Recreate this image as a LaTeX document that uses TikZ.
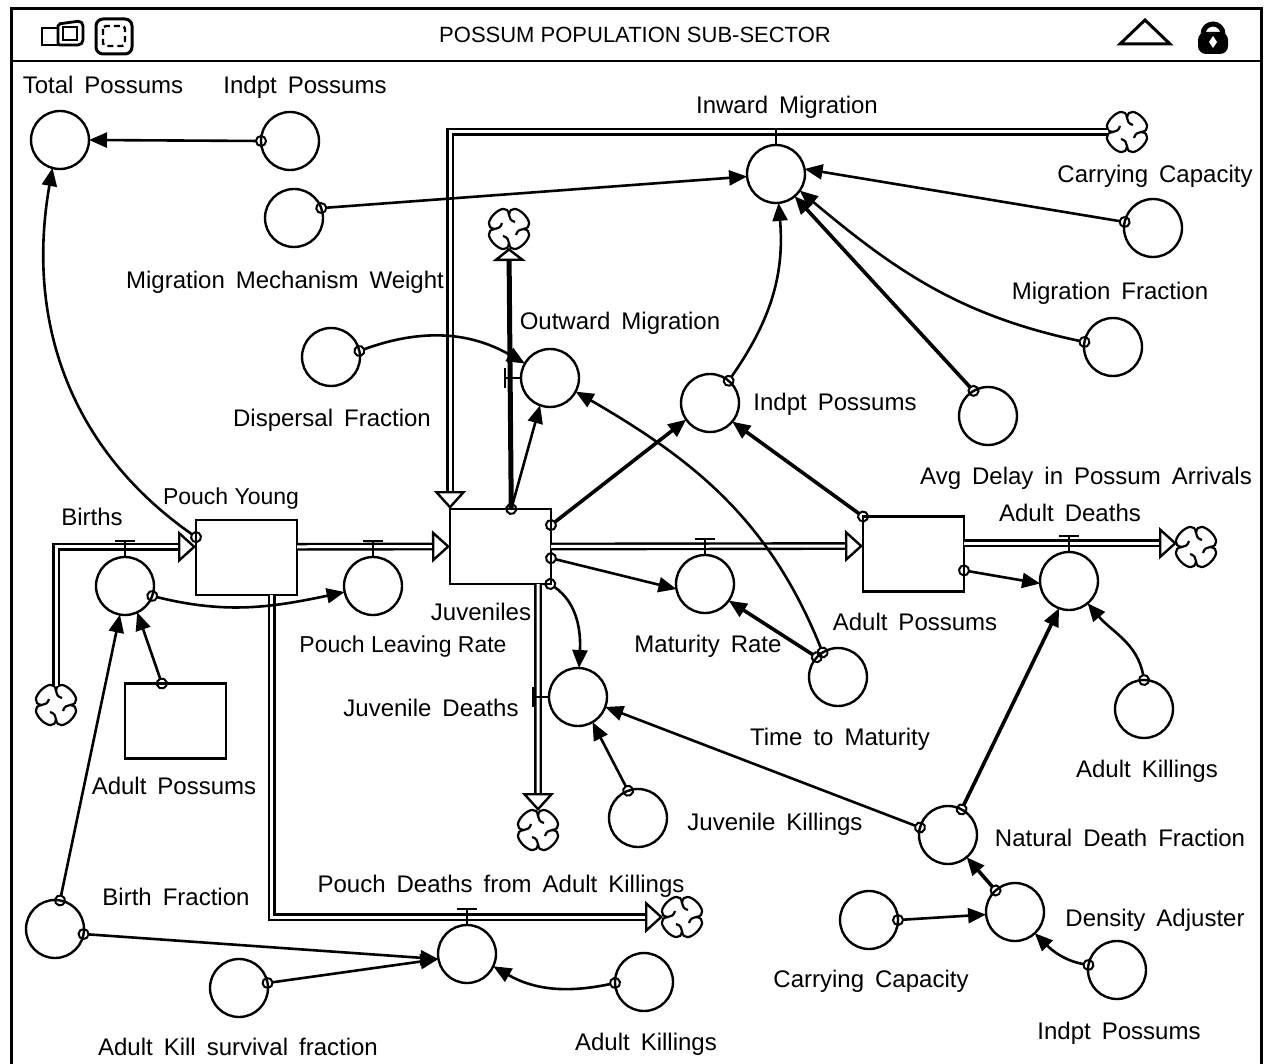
\documentclass[tikz,border=0pt]{standalone}
\usepackage{fontspec}
\setmainfont{Liberation Sans}
\usetikzlibrary{arrows.meta}
\newcommand{\lblfont}{\fontsize{24}{26}\selectfont\spaceskip=11pt\relax}
\tikzset{
  conv/.style = {draw, circle, minimum size = 58pt, inner sep = 0pt, outer sep = 0pt, line width = 2.4pt},
  stock/.style = {draw, rectangle, minimum width = 101pt, minimum height = 75pt, inner sep = 0pt, outer sep = 0pt, line width = 2.6pt},
  swirl/.style = {circle, minimum size = 38pt, inner sep = 0pt, outer sep = 0pt},
  lbl/.style = {inner sep = 0pt, text height = 17pt, text depth = 0pt, font = \lblfont},
  tightlbl/.style = {lbl, font = \fontsize{23}{26}\selectfont},
  tap/.style = {line width = 2.6pt, shorten <= -6pt,
    {Circle[open, length = 12pt, width = 12pt, line width = 2pt]}-{Triangle[length = 18pt, width = 15pt]}},
  heavytap/.style = {tap, line width = 3.6pt},
  flow/.style = {double, double distance = 3pt, line width = 2.4pt,
    -{Triangle[open, fill = white, length = 18pt, width = 32pt, line width = 2.4pt]}},
  valve/.style = {line width = 1.8pt, -{Bar[width = 20pt, line width = 2.4pt]}},
}
\begin{document}
\begin{tikzpicture}[x = 1pt, y = -1pt]
    \useasboundingbox (0,0) rectangle (1266,1064);
    % window frame and title bar
    \draw [line width = 3pt] (11,1064) |- (1261,9) -- (1261,1064);
    \draw [line width = 2.4pt] (11,61) -- (1261,61);
    \draw [line width = 2.8pt] (42,28) rectangle (58,45);
    \draw [line width = 2.8pt, rounded corners = 2pt] (58,45) -- (58,24) -- (80,21) -- (83,24) -- (83,42) -- (80,45) -- cycle;
    \draw [line width = 2.4pt] (63,27) rectangle (77,40);
    \draw [line width = 3pt, rounded corners = 7pt] (96,19) rectangle (132,54);
    \draw [line width = 2.4pt, dash pattern = on 6pt off 4pt, rounded corners = 3pt] (103,26) rectangle (125,46);
    \draw [line width = 3pt] (1145,20) -- (1170,44) -- (1120,44) -- cycle;
    \draw [line width = 5pt] (1203,34) arc [start angle = 180, end angle = 0, radius = 10pt];
    \fill [rounded corners = 8pt] (1198,32) rectangle (1228,54);
    \fill [white] (1213,36) -- (1217,42) -- (1213,48) -- (1209,42) -- cycle;
    \node (title) at (635,35) [inner sep = 0pt, font = \fontsize{22}{26}\selectfont] {POSSUM POPULATION SUB-SECTOR};

    % stocks
    \node (pouch) at (246.5,557.5) [stock] {};
    \node (juv) at (500.5,546.5) [stock] {};
    \node (adult) at (913.5,554) [stock] {};
    \node (ghostA) at (175.5,721) [stock] {};

    % converters
    \node (totalA) at (60,140) [conv] {};
    \node (indptA) at (290,141) [conv] {};
    \node (inward) at (776,174) [conv] {};
    \node (mechW) at (294,218) [conv] {};
    \node (capA) at (1153,228) [conv] {};
    \node (migF) at (1113,347) [conv] {};
    \node (avgD) at (988,416) [conv] {};
    \node (indptM) at (710,403) [conv] {};
    \node (outw) at (550,378) [conv] {};
    \node (dispF) at (331,357) [conv] {};
    \node (births) at (125,586) [conv] {};
    \node (leave) at (373,586) [conv] {};
    \node (matR) at (705,584) [conv] {};
    \node (deaths) at (1069,581) [conv] {};
    \node (juvD) at (578,697) [conv] {};
    \node (timeM) at (838,677) [conv] {};
    \node (juvK) at (638,818) [conv] {};
    \node (killR) at (1144,709) [conv] {};
    \node (natD) at (948,835) [conv] {};
    \node (densA) at (1015,912) [conv] {};
    \node (capB) at (869,920) [conv] {};
    \node (indptB) at (1117,970) [conv] {};
    \node (birthF) at (55,929) [conv] {};
    \node (killS) at (239,988) [conv] {};
    \node (pouchD) at (467,954) [conv] {};
    \node (killL) at (644,982) [conv] {};

    % clouds
    \node (cloudI) at (1127,132) [swirl] {};
    \node (cloudO) at (509,229) [swirl] {};
    \node (cloudB) at (56,705) [swirl] {};
    \node (cloudD) at (1196,547) [swirl] {};
    \node (cloudJ) at (538,830) [swirl] {};
    \node (cloudP) at (682,917) [swirl] {};
    \foreach \c in {cloudI,cloudO,cloudB,cloudD,cloudJ,cloudP}
      \foreach \r in {0,90,180,270}
        \draw [line width = 2.2pt, shift = {(\c.center)}, rotate = \r]
          (0,-14) .. controls (2,-33) and (33,-2) .. (14,0)
          (0,-14) .. controls (0,-11) and (2,-8) .. (6,-7);

    % flows
    \draw [flow] (cloudB.north) |- (pouch.168);
    \draw [flow] (pouch.12) -- (juv.west);
    \draw [flow] (juv.east) -- (adult.171);
    \draw [flow] (adult.12) -- (adult.12 -| cloudD.west);
    \draw [flow] (juv.-45) -- (cloudJ.north);
    \draw [flow] (pouch.-56) |- (cloudP.west);
    \draw [flow] (cloudI.west) -| (juv.north west);
    \draw [line width = 5pt, -{Triangle[open, fill = white, length = 13pt, width = 33pt, line width = 2.4pt]}] (juv.74) -- (cloudO.south);

    % valves
    \foreach \c in {inward,births,leave,matR,deaths,pouchD}
      \draw [valve] (\c.north) -- +(0,-17);
    \foreach \c in {outw,juvD}
      \draw [valve] (\c.west) -- +(-17,0);

    % connectors
    \draw [tap] (indptA.west) -- (totalA.east);
    \draw [tap] (pouch.158) to [out = 145, in = -100] (totalA.-105);
    \draw [tap] (mechW.20) -- (inward.185);
    \draw [tap] (capA.168) -- (inward.10);
    \draw [tap] (migF.170) to [out = 168, in = -40] (inward.-35);
    \draw [heavytap] (avgD.120) -- (inward.-50);
    \draw [tap] (indptM.50) to [out = 55, in = -85] (inward.-85);
    \draw [tap] (dispF.12) to [out = 20, in = 150] (outw.150);
    \draw [tap] (juv.74) -- (outw.-110);
    \draw [heavytap] (juv.23) -- (indptM.-145);
    \draw [heavytap] (adult.north west) -- (indptM.-40);
    \draw [tap] (juv.-13) -- (matR.190);
    \draw [tap] (juv.-37) to [out = -35, in = 87] (juvD.88);
    \draw [heavytap] (timeM.137) -- (matR.-35);
    \draw [tap] (timeM.122) to [out = 112, in = -30] (outw.-28);
    \draw [tap] (adult.-18) -- (deaths.185);
    \draw [tap] (killR.90) to [out = 100, in = -50] (deaths.-50);
    \draw [heavytap] (natD.62) -- (deaths.-110);
    \draw [tap] (natD.165) -- (juvD.-20);
    \draw [heavytap] (densA.132) -- (natD.-50);
    \draw [tap] (capB.east) -- (densA.185);
    \draw [tap] (indptB.170) to [out = 170, in = -45] (densA.-47);
    \draw [tap] (juvK.110) -- (juvD.-60);
    \draw [tap] (births.-20) to [out = -14, in = 192] (leave.192);
    \draw [tap] (ghostA.110) -- (births.-65);
    \draw [tap] (birthF.80) -- (births.-100);
    \draw [tap] (birthF.-10) -- (pouchD.190);
    \draw [tap] (killS.10) -- (pouchD.190);
    \draw [tap] (killL.182) to [out = 192, in = -30] (pouchD.-25);

    % labels
    \node (l1) at (103,85) [lbl] {Total Possums};
    \node (l2) at (305,85) [lbl] {Indpt Possums};
    \node (l3) at (787,105) [lbl] {Inward Migration};
    \node (l4) at (1155,174) [lbl] {Carrying Capacity};
    \node (l5) at (285,280) [lbl] {Migration Mechanism Weight};
    \node (l6) at (1110,291) [lbl] {Migration Fraction};
    \node (l7) at (620,321) [lbl] {Outward Migration};
    \node (l8) at (835,402) [lbl] {Indpt Possums};
    \node (l9) at (332,418) [lbl] {Dispersal Fraction};
    \node (l10) at (1086,476) [lbl] {Avg Delay in Possum Arrivals};
    \node (l11) at (231,496) [tightlbl] {Pouch Young};
    \node (l12) at (92,517) [lbl] {Births};
    \node (l13) at (1070,513) [lbl] {Adult Deaths};
    \node (l14) at (481,612) [lbl] {Juveniles};
    \node (l15) at (915,622) [lbl] {Adult Possums};
    \node (l16) at (403,644) [tightlbl] {Pouch Leaving Rate};
    \node (l17) at (708,644) [lbl] {Maturity Rate};
    \node (l18) at (431,708) [lbl] {Juvenile Deaths};
    \node (l19) at (840,737) [lbl] {Time to Maturity};
    \node (l20) at (1147,769) [lbl] {Adult Killings};
    \node (l21) at (174,786) [lbl] {Adult Possums};
    \node (l22) at (775,822) [lbl] {Juvenile Killings};
    \node (l23) at (1120,838) [lbl] {Natural Death Fraction};
    \node (l24) at (501,884) [lbl] {Pouch Deaths from Adult Killings};
    \node (l25) at (176,897) [lbl] {Birth Fraction};
    \node (l26) at (1155,918) [lbl] {Density Adjuster};
    \node (l27) at (871,979) [lbl] {Carrying Capacity};
    \node (l28) at (1119,1031) [lbl] {Indpt Possums};
    \node (l29) at (646,1042) [lbl] {Adult Killings};
    \node (l30) at (238,1047) [lbl] {Adult Kill survival fraction};
  \end{tikzpicture}
\end{document}
